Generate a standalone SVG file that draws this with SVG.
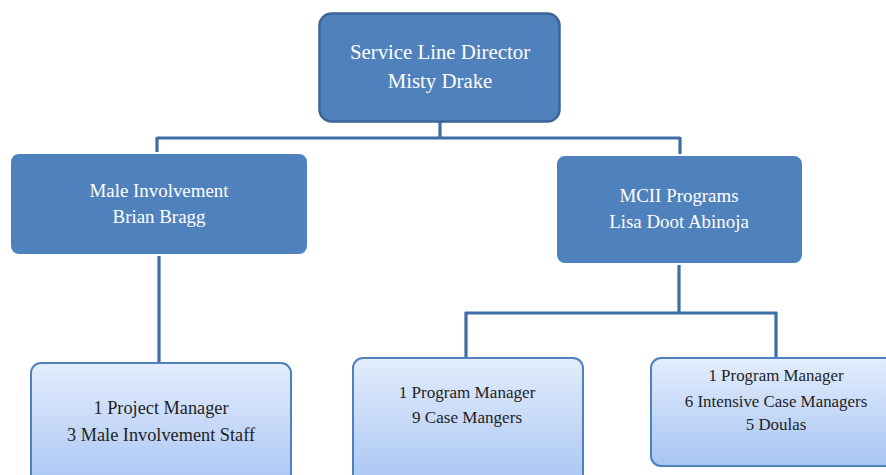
<svg xmlns="http://www.w3.org/2000/svg" width="886" height="475" viewBox="0 0 886 475">
<defs>
<linearGradient id="lg" x1="0" y1="0" x2="0" y2="1">
<stop offset="0" stop-color="#E3EDFC"/>
<stop offset="1" stop-color="#A8C5F4"/>
</linearGradient>
<style>
.top{fill:#4F81BD;stroke:#3B6594;stroke-width:2.5}
.mid{fill:#4F81BD;stroke:#FFFFFF;stroke-width:2}
.low{fill:url(#lg);stroke:#4F81BD;stroke-width:2}
.wt{fill:#FFFFFF;text-anchor:middle}
.dt{fill:#1F1F1F;text-anchor:middle}
.con{fill:none;stroke:#3F6DA6;stroke-width:3.2}
</style>
</defs>
<rect width="886" height="475" fill="#FFFFFF"/>
<g id="connectors">
<path class="con" d="M440 121 V138 M157 138 H680 M157 137 V154 M680 137 V156"/>
<path class="con" d="M159 255 V366"/>
<path class="con" d="M679 263 V313 M465 313 H777 M466 312 V359 M776 312 V359"/>
</g>
<g font-family="'Liberation Serif', 'Times New Roman', serif">
<g id="n-director">
<rect class="top" x="319.5" y="13.5" width="240" height="108" rx="12"/>
<text class="wt" font-size="20.8" x="440" y="59">Service Line Director</text>
<text class="wt" font-size="20.8" x="440" y="88">Misty Drake</text>
</g>
<g id="n-male">
<rect class="mid" x="10" y="153" width="298" height="102" rx="9"/>
<text class="wt" font-size="18.9" x="159" y="197">Male Involvement</text>
<text class="wt" font-size="18.9" x="159" y="223">Brian Bragg</text>
</g>
<g id="n-mcii">
<rect class="mid" x="556" y="155" width="247" height="109" rx="9"/>
<text class="wt" font-size="18.9" x="679" y="202">MCII Programs</text>
<text class="wt" font-size="18.9" x="679" y="228">Lisa Doot Abinoja</text>
</g>
<g id="n-project">
<rect class="low" x="31" y="363" width="260" height="125" rx="10"/>
<text class="dt" font-size="18.3" x="161" y="414">1 Project Manager</text>
<text class="dt" font-size="18.3" x="161" y="441">3 Male Involvement Staff</text>
</g>
<g id="n-program1">
<rect class="low" x="353" y="358" width="230" height="130" rx="10"/>
<text class="dt" font-size="17.1" x="467" y="398">1 Program Manager</text>
<text class="dt" font-size="17.1" x="467" y="423">9 Case Mangers</text>
</g>
<g id="n-program2">
<rect class="low" x="651" y="358" width="245" height="108" rx="10"/>
<text class="dt" font-size="16.9" x="776" y="381">1 Program Manager</text>
<text class="dt" font-size="16.9" x="776" y="407">6 Intensive Case Managers</text>
<text class="dt" font-size="16.9" x="776" y="430">5 Doulas</text>
</g>
</g>
</svg>
